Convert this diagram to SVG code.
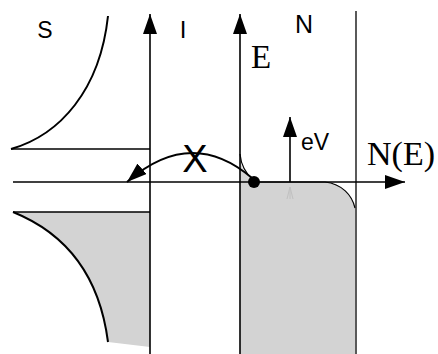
<svg xmlns="http://www.w3.org/2000/svg" width="438" height="354" viewBox="0 0 438 354">
<style>
.ln{stroke:#000;stroke-width:1.6;fill:none}
.cv{stroke:#000;stroke-width:2;fill:none}
.sans{font-family:"Liberation Sans",Arial,sans-serif;fill:#000}
.serif{font-family:"Liberation Serif","Times New Roman",serif;fill:#000}
.gray{fill:#d3d3d3;stroke:none}
</style>
<defs>
<marker id="ah" viewBox="0 0 20 14" refX="20" refY="7" markerWidth="20" markerHeight="14" markerUnits="userSpaceOnUse" orient="auto">
<path d="M0,0 L20,7 L0,14 Z" fill="#000"/>
</marker>
</defs>
<g id="s-region">
<path class="gray" d="M13,212 L150,212 L150,347 L108,342 C100,280 70,235 13,212 Z"/>
<path class="cv" d="M108,16 C100,90 60,135 11,149"/>
<line class="ln" x1="11" y1="149" x2="150" y2="149"/>
<path class="cv" d="M13,212 C70,235 100,280 108,342"/>
<line class="ln" x1="13" y1="212" x2="150" y2="212"/>
<text class="sans" x="45" y="38" font-size="23" text-anchor="middle">S</text>
</g>
<g id="n-region">
<path class="gray" d="M240,158 C241,168 246,176 254,182 L325,182 C342,184 352,195 355,208 L355,354 L240,354 Z"/>
<path stroke="#000" stroke-width="1.2" fill="none" d="M240,154 C241,166 246,174 254,181"/>
<path stroke="#000" stroke-width="1.2" fill="none" d="M254,182 L325,182 C342,184 352,195 355,208"/>
<line stroke="#000" stroke-width="1.3" x1="356" y1="11" x2="356" y2="354"/>
<text class="sans" x="304" y="33" font-size="25" text-anchor="middle">N</text>
</g>
<g id="i-region">
<text class="sans" x="183" y="38" font-size="24" text-anchor="middle">I</text>
</g>
<g id="connectors">
<line class="ln" x1="150" y1="354" x2="150" y2="14" marker-end="url(#ah)"/>
<line class="ln" x1="240" y1="354" x2="240" y2="14" marker-end="url(#ah)"/>
<line class="ln" x1="13" y1="182" x2="405" y2="182" marker-end="url(#ah)"/>
<line class="ln" x1="290" y1="182" x2="290" y2="117" marker-end="url(#ah)"/>
<path stroke="#c0c0c0" stroke-width="1" fill="none" d="M287,199 L290,187 L293,199 M290,187 L290,199"/>
<path class="cv" d="M252,178 Q191,126 127,182" marker-end="url(#ah)"/>
</g>
<g id="dot">
<circle cx="254" cy="182" r="6" fill="#000"/>
</g>
<g id="labels">
<text class="serif" x="251" y="68" font-size="33">E</text>
<text class="serif" x="367" y="165" font-size="34">N(E)</text>
<text class="sans" x="301" y="150" font-size="23">eV</text>
<text class="sans" x="195" y="172" font-size="38" text-anchor="middle">X</text>
</g>
</svg>
